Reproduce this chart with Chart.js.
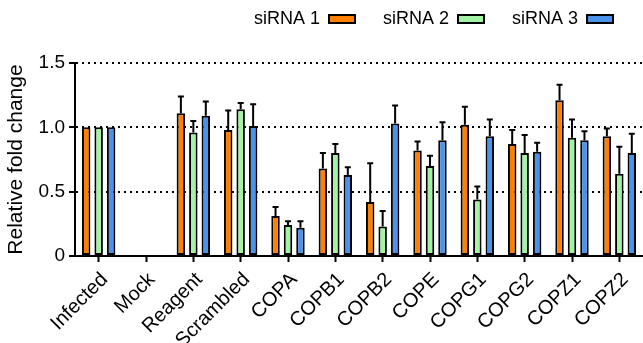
<!DOCTYPE html>
<html>
<head>
<meta charset="utf-8">
<script src="https://cdn.jsdelivr.net/npm/chart.js@4"></script>
<style>
  html, body { margin: 0; padding: 0; background: #fff; overflow: hidden; }
  #wrap { width: 643px; height: 343px; position: relative; }
</style>
</head>
<body>
<div id="wrap"><canvas id="foldChart"></canvas></div>
<script>
// categories and series
var categories = ['Infected', 'Mock', 'Reagent', 'Scrambled', 'COPA', 'COPB1', 'COPB2', 'COPE', 'COPG1', 'COPG2', 'COPZ1', 'COPZ2'];
var seriesNames = ['siRNA 1', 'siRNA 2', 'siRNA 3'];

var sirna1 = [1.00, 0, 1.11, 0.98, 0.31, 0.68, 0.42, 0.82, 1.02, 0.87, 1.21, 0.93];
var sirna2 = [1.00, 0, 0.96, 1.14, 0.24, 0.80, 0.23, 0.70, 0.44, 0.80, 0.92, 0.64];
var sirna3 = [1.00, 0, 1.09, 1.01, 0.22, 0.63, 1.03, 0.90, 0.93, 0.81, 0.90, 0.80];

// upper error bars
var sirna1Err = [0, 0, 0.13, 0.15, 0.07, 0.12, 0.30, 0.07, 0.14, 0.11, 0.12, 0.06];
var sirna2Err = [0, 0, 0.09, 0.05, 0.03, 0.07, 0.12, 0.08, 0.10, 0.14, 0.14, 0.21];
var sirna3Err = [0, 0, 0.11, 0.17, 0.05, 0.06, 0.14, 0.14, 0.13, 0.07, 0.07, 0.15];

var yTickLabels = ['0', '0.5', '1.0', '1.5'];

var colors = ['#ff8000', '#a4f2a4', '#4b93ea'];

var FONT = 'Liberation Sans, Arial, Helvetica, sans-serif';

// ==== error bar plugin ====
var errorBars = {
    id: 'errorBars',
    afterDatasetsDraw: function (chart) {
        var ctx = chart.ctx;
        var yScale = chart.scales.y;
        chart.data.datasets.forEach(function (ds, i) {
            var meta = chart.getDatasetMeta(i);
            meta.data.forEach(function (bar, j) {
                var e = ds.errors[j];
                if (!e) return;
                var top = yScale.getPixelForValue(ds.data[j] + e);
                ctx.save();
                ctx.strokeStyle = '#000';
                ctx.lineWidth = 2;
                ctx.beginPath();
                ctx.moveTo(bar.x, bar.y);
                ctx.lineTo(bar.x, top);
                ctx.moveTo(bar.x - 3, top);
                ctx.lineTo(bar.x + 3, top);
                ctx.stroke();
                ctx.restore();
            });
        });
    }
};

// ==== legend placement: fixed height, shifted right/up ====
var LEGEND_H = 63, LEGEND_DX = 112, LEGEND_DY = -18;
var legendPlace = {
    id: 'legendPlace',
    beforeInit: function (chart) {
        var lg = chart.legend;
        var fit = lg.fit, draw = lg.draw;
        lg.fit = function () { fit.call(this); this.height = LEGEND_H; };
        lg.draw = function () {
            var ctx = this.ctx;
            ctx.save();
            ctx.translate(LEGEND_DX, LEGEND_DY);
            draw.call(this);
            ctx.restore();
        };
    }
};

function makeSet(idx, data, errs) {
    return {
        label: seriesNames[idx],
        data: data,
        errors: errs,
        backgroundColor: colors[idx],
        borderColor: '#000',
        borderWidth: 2,
        borderSkipped: false,
        categoryPercentage: 0.79,
        barPercentage: 0.68
    };
}

var foldChart = new Chart(document.getElementById('foldChart').getContext('2d'), {
    type: 'bar',
    data: {
        labels: categories,
        datasets: [
            makeSet(0, sirna1, sirna1Err),
            makeSet(1, sirna2, sirna2Err),
            makeSet(2, sirna3, sirna3Err)
        ]
    },
    options: {
        responsive: true,
        maintainAspectRatio: false,
        animation: false,
        layout: { padding: { top: 0, left: 0, right: 0, bottom: 0 } },
        plugins: {
            tooltip: { enabled: false },
            legend: {
                position: 'top',
                align: 'center',
                rtl: true,
                reverse: true,
                textDirection: 'ltr',
                labels: {
                    color: '#000',
                    font: { family: FONT, size: 18 },
                    boxWidth: 26,
                    boxHeight: 8,
                    padding: 28
                }
            }
        },
        scales: {
            x: {
                afterFit: function (scale) { scale.height = 87; },
                grid: {
                    offset: false,
                    drawOnChartArea: false,
                    drawTicks: true,
                    tickLength: 6,
                    tickColor: '#000',
                    tickWidth: 2
                },
                border: { color: '#000', width: 2 },
                ticks: {
                    color: '#000',
                    font: { family: FONT, size: 20 },
                    maxRotation: 45,
                    minRotation: 45,
                    padding: 6,
                    labelOffset: 6,
                    autoSkip: false
                }
            },
            y: {
                min: 0,
                max: 1.5,
                afterFit: function (scale) { scale.width = 75; },
                ticks: {
                    stepSize: 0.5,
                    color: '#000',
                    font: { family: FONT, size: 19 },
                    padding: 4,
                    callback: function (v, i) { return yTickLabels[i]; }
                },
                grid: {
                    color: '#000',
                    lineWidth: 2,
                    tickBorderDash: [],
                    tickColor: '#000',
                    tickLength: 6,
                    tickWidth: 2
                },
                border: { color: '#000', width: 2, dash: [2, 4] },
                title: {
                    display: true,
                    text: 'Relative fold change',
                    color: '#000',
                    font: { family: FONT, size: 21 },
                    padding: { top: 4, bottom: 2 }
                }
            }
        }
    },
    plugins: [errorBars, legendPlace]
});
</script>
</body>
</html>
